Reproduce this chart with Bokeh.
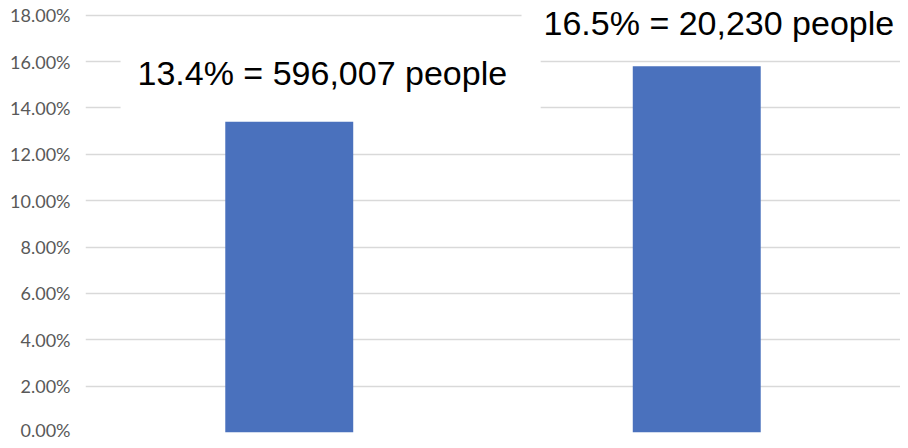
from bokeh.plotting import figure
from bokeh.models import FactorRange, Range1d, FixedTicker, PrintfTickFormatter, Label, BoxAnnotation, ColumnDataSource
from bokeh.embed import file_html
from bokeh.resources import INLINE

categories = ["Group A", "Group B"]
values = [13.4, 15.8]
label_texts = ["13.4% = 596,007 people", "16.5% = 20,230 people"]
y_ticks = [0, 2, 4, 6, 8, 10, 12, 14, 16, 18]

src = ColumnDataSource(data=dict(cat=categories, val=values))

p = figure(width=900, height=440, output_backend="svg", toolbar_location=None,
           x_range=FactorRange(*categories, range_padding=0), y_range=Range1d(0, 18.2),
           min_border_left=85, min_border_right=0, min_border_top=10, min_border_bottom=8)

p.vbar(x="cat", top="val", width=0.314, source=src, color="#4a71bd", line_color=None)

p.outline_line_color = None
p.xgrid.grid_line_color = None
p.ygrid.grid_line_color = "#d9d9d9"
p.ygrid.grid_line_width = 1.3
p.ygrid.ticker = FixedTicker(ticks=y_ticks)
p.xaxis.visible = False

ya = p.yaxis[0]
ya.ticker = FixedTicker(ticks=y_ticks)
ya.formatter = PrintfTickFormatter(format="%.2f%%")
ya.axis_line_color = None
ya.major_tick_line_color = None
ya.minor_tick_line_color = None
ya.major_tick_out = 0
ya.major_label_standoff = 15
ya.major_label_text_font = "Lato"
ya.major_label_text_font_size = "18px"
ya.major_label_text_color = "#595959"

# white boxes behind labels
p.add_layout(BoxAnnotation(left=0.086, right=1.117, bottom=13.54, top=16.69,
                           fill_color="white", fill_alpha=1, line_color=None, level="underlay"))
p.add_layout(BoxAnnotation(left=1.070, right=2.1, bottom=16.47, top=19.0,
                           fill_color="white", fill_alpha=1, line_color=None, level="underlay"))

for txt, x, y in zip(label_texts, [0.1276, 1.124], [15.5, 17.68]):
    p.add_layout(Label(x=x, y=y, text=txt, text_font="Liberation Sans", text_font_size="34px",
                       text_color="black", text_baseline="alphabetic", text_align="left"))

open("out.html", "w").write(file_html(p, INLINE))
